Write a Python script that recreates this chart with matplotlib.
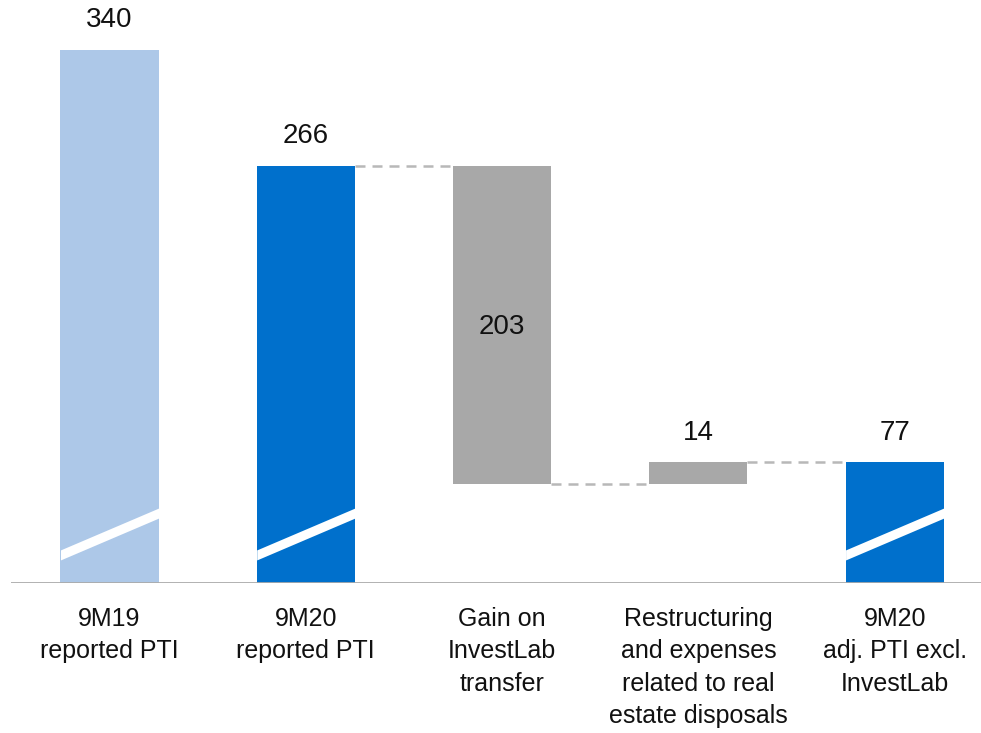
import matplotlib.pyplot as plt

plt.rcParams['font.family'] = ['Liberation Sans', 'DejaVu Sans']

# data
categories = ["9M19\nreported PTI", "9M20\nreported PTI", "Gain on\nInvestLab\ntransfer",
              "Restructuring\nand expenses\nrelated to real\nestate disposals",
              "9M20\nadj. PTI excl.\nInvestLab"]
values = [340, 266, -203, 14, 77]
kinds = ["total_prev", "total", "delta", "delta", "total"]

colors = {"total_prev": "#adc8e8", "total": "#0070cc", "delta": "#a8a8a8"}

# work out bottoms / tops for the waterfall
bottoms = []
heights = []
running = 0
for v, k in zip(values, kinds):
    if k == "total_prev":
        bottoms.append(0)
        heights.append(v)
    elif k == "total":
        bottoms.append(0)
        heights.append(v)
        running = v
    else:
        new = running + v
        bottoms.append(min(running, new))
        heights.append(abs(v))
        running = new

fig = plt.figure(figsize=(9.81, 7.33), dpi=100)
ax = fig.add_axes([11 / 981, 150 / 733, 970 / 981, 583 / 733])

x = list(range(len(values)))
w = 0.5
ax.bar(x, heights, bottom=bottoms, width=w,
       color=[colors[k] for k in kinds], zorder=2)

# white "axis break" slash on the full bars, clipped to the bar edges
for i, k in enumerate(kinds):
    if k != "delta":
        xs = [i - w / 2, i + w / 2]
        ax.fill_between(xs, [14.7, 41.4], [21.1, 47.8], color="white",
                        lw=0, zorder=3)

# dashed connectors
for i in range(1, len(values) - 1):
    if kinds[i] == "total":
        level = heights[i]
    elif values[i] < 0:
        level = bottoms[i]
    else:
        level = bottoms[i] + heights[i]
    ax.plot([i + w / 2, i + 1 - w / 2], [level, level], color="#b8b8b8",
            lw=1.8, ls=(0, (4, 2.8)), zorder=1)

# value labels
for i, v in enumerate(values):
    if kinds[i] == "delta" and heights[i] > 50:
        ax.text(i, bottoms[i] + heights[i] / 2 - 5.5, str(abs(v)), ha="center",
                va="baseline", fontsize=20, color="#111111")
    else:
        ax.text(i, bottoms[i] + heights[i] + 14.5, str(abs(v)), ha="center",
                va="baseline", fontsize=20, color="#111111")

ax.set_xlim(-0.502, 4.44)
ax.set_ylim(0, 371.8)
ax.axhline(0, color="#aaaaaa", lw=2, zorder=4)

for s in ax.spines.values():
    s.set_visible(False)
ax.set_yticks([])
ax.set_xticks(x)
ax.set_xticklabels(categories, fontsize=18, linespacing=1.45, color="#111111")
ax.tick_params(axis="x", length=0, pad=17)

fig.savefig("out.png", dpi=100)
